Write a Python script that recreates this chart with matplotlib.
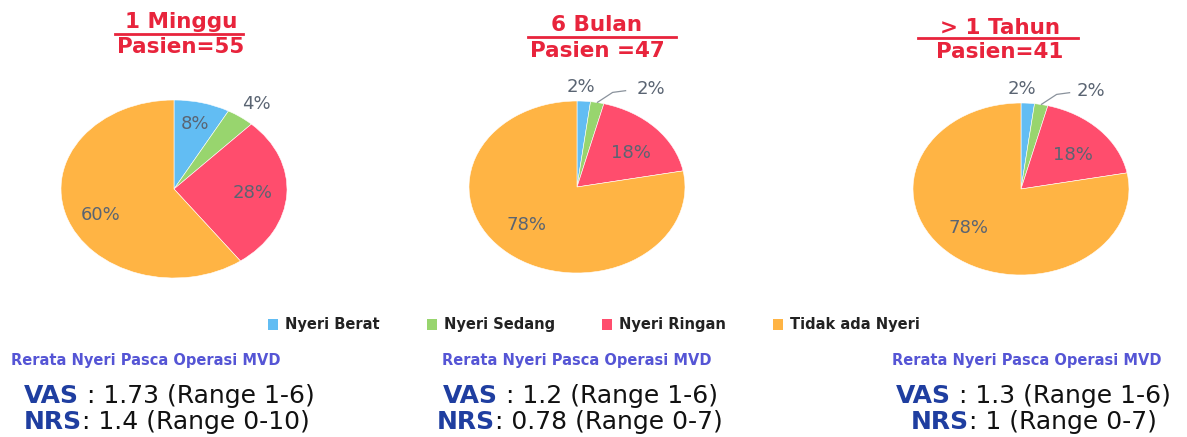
import numpy as np
import matplotlib
matplotlib.use("Agg")
import matplotlib.pyplot as plt
from matplotlib.patches import Patch
from matplotlib.lines import Line2D
from matplotlib.offsetbox import TextArea, HPacker, AnnotationBbox

# data
categories = ["Nyeri Berat", "Nyeri Sedang", "Nyeri Ringan", "Tidak ada Nyeri"]
periode = ["1 Minggu", "6 Bulan", "> 1 Tahun"]
pasien = ["Pasien=55", "Pasien =47", "Pasien=41"]
persen_1minggu = [8, 4, 28, 60]
persen_6bulan = [2, 2, 18, 78]
persen_1tahun = [2, 2, 18, 78]
vas = ["1.73 (Range 1-6)", "1.2 (Range 1-6)", "1.3 (Range 1-6)"]
nrs = ["1.4 (Range 0-10)", "0.78 (Range 0-7)", "1 (Range 0-7)"]
subjudul = "Rerata Nyeri Pasca Operasi MVD"

colors = ["#62bdf3", "#98d56e", "#ff4d6d", "#ffb444"]
red = "#e8243c"
grey = "#5a6472"

W, H = 1187, 437
fig = plt.figure(figsize=(W / 100, H / 100), dpi=100)
fig.patch.set_facecolor("white")

# pie layout in pixels: centre x, centre y (from top), rx, ry
pies = [(174, 189, 113, 89), (577, 187, 108, 86), (1021, 189, 108, 86)]
# label positions (relative to radius) per wedge
lbl_pos = [
    [(0.19, 0.73), (0.73, 0.96), (0.70, -0.05), (-0.65, -0.29)],
    [(0.04, 1.16), (0.68, 1.14), (0.50, 0.40), (-0.47, -0.44)],
    [(0.01, 1.16), (0.65, 1.14), (0.48, 0.40), (-0.49, -0.45)],
]
datasets = [persen_1minggu, persen_6bulan, persen_1tahun]

for i, (vals, (cx, cy, rx, ry)) in enumerate(zip(datasets, pies)):
    ax = fig.add_axes([(cx - rx) / W, (H - cy - ry) / H, 2 * rx / W, 2 * ry / H])
    ax.pie(vals, colors=colors, startangle=90, counterclock=False,
           wedgeprops=dict(linewidth=0.4, edgecolor="white"))
    ax.set_aspect("auto")
    ax.set_xlim(-1, 1)
    ax.set_ylim(-1, 1)
    ax.axis("off")
    for j, v in enumerate(vals):
        px, py = lbl_pos[i][j]
        ax.text(px, py, f"{v}%", ha="center", va="center", fontsize=13,
                color=grey, clip_on=False)
    if i > 0:
        # leader line for the small green slice
        ax.plot([0.19, 0.33, 0.45], [0.985, 1.10, 1.12], color="#8a929c",
                lw=0.9, clip_on=False)

# titles
title_pos = [(181, 22, 47, 115, 243, 34), (597, 25, 51, 528, 676, 37),
             (1000, 28, 52, 918, 1078, 38)]
for k, (tx, y1, y2, lx0, lx1, ly) in enumerate(title_pos):
    fig.text(tx / W, 1 - y1 / H, periode[k], ha="center", va="center",
             fontsize=15.5, fontweight="bold", color=red)
    fig.text(tx / W, 1 - y2 / H, pasien[k], ha="center", va="center",
             fontsize=15.5, fontweight="bold", color=red)
    fig.add_artist(Line2D([lx0 / W, lx1 / W], [1 - ly / H, 1 - ly / H],
                          color=red, lw=2))

# legend
handles = [Patch(facecolor=c, edgecolor="none") for c in colors]
fig.legend(handles, categories, loc="center", ncol=4,
           bbox_to_anchor=(594 / W, 1 - 325 / H), frameon=False,
           handlelength=0.7, handleheight=0.7, handletextpad=0.5,
           columnspacing=3.2, prop=dict(size=10.5, weight="bold"),
           labelcolor="#222222")

# bottom summaries
sub_x = [146, 577, 1027]
vas_x = [169, 580, 1033]
nrs_x = [167, 580, 1034]
for k in range(3):
    fig.text(sub_x[k] / W, 1 - 360 / H, subjudul, ha="center", va="center",
             fontsize=10.5, fontweight="bold", color="#5555d5")
    for lab, rest, xx, yy in [("VAS", " : " + vas[k], vas_x[k], 396),
                              ("NRS", ": " + nrs[k], nrs_x[k], 422)]:
        box = HPacker(children=[
            TextArea(lab, textprops=dict(fontsize=18, fontweight="bold",
                                         color="#1f3ea0")),
            TextArea(rest, textprops=dict(fontsize=18, color="#111111")),
        ], align="baseline", pad=0, sep=0)
        ab = AnnotationBbox(box, (xx, H - yy), xycoords="figure pixels",
                            box_alignment=(0.5, 0.5), frameon=False, pad=0)
        fig.add_artist(ab)

fig.savefig("out.png", dpi=100, facecolor="white")
